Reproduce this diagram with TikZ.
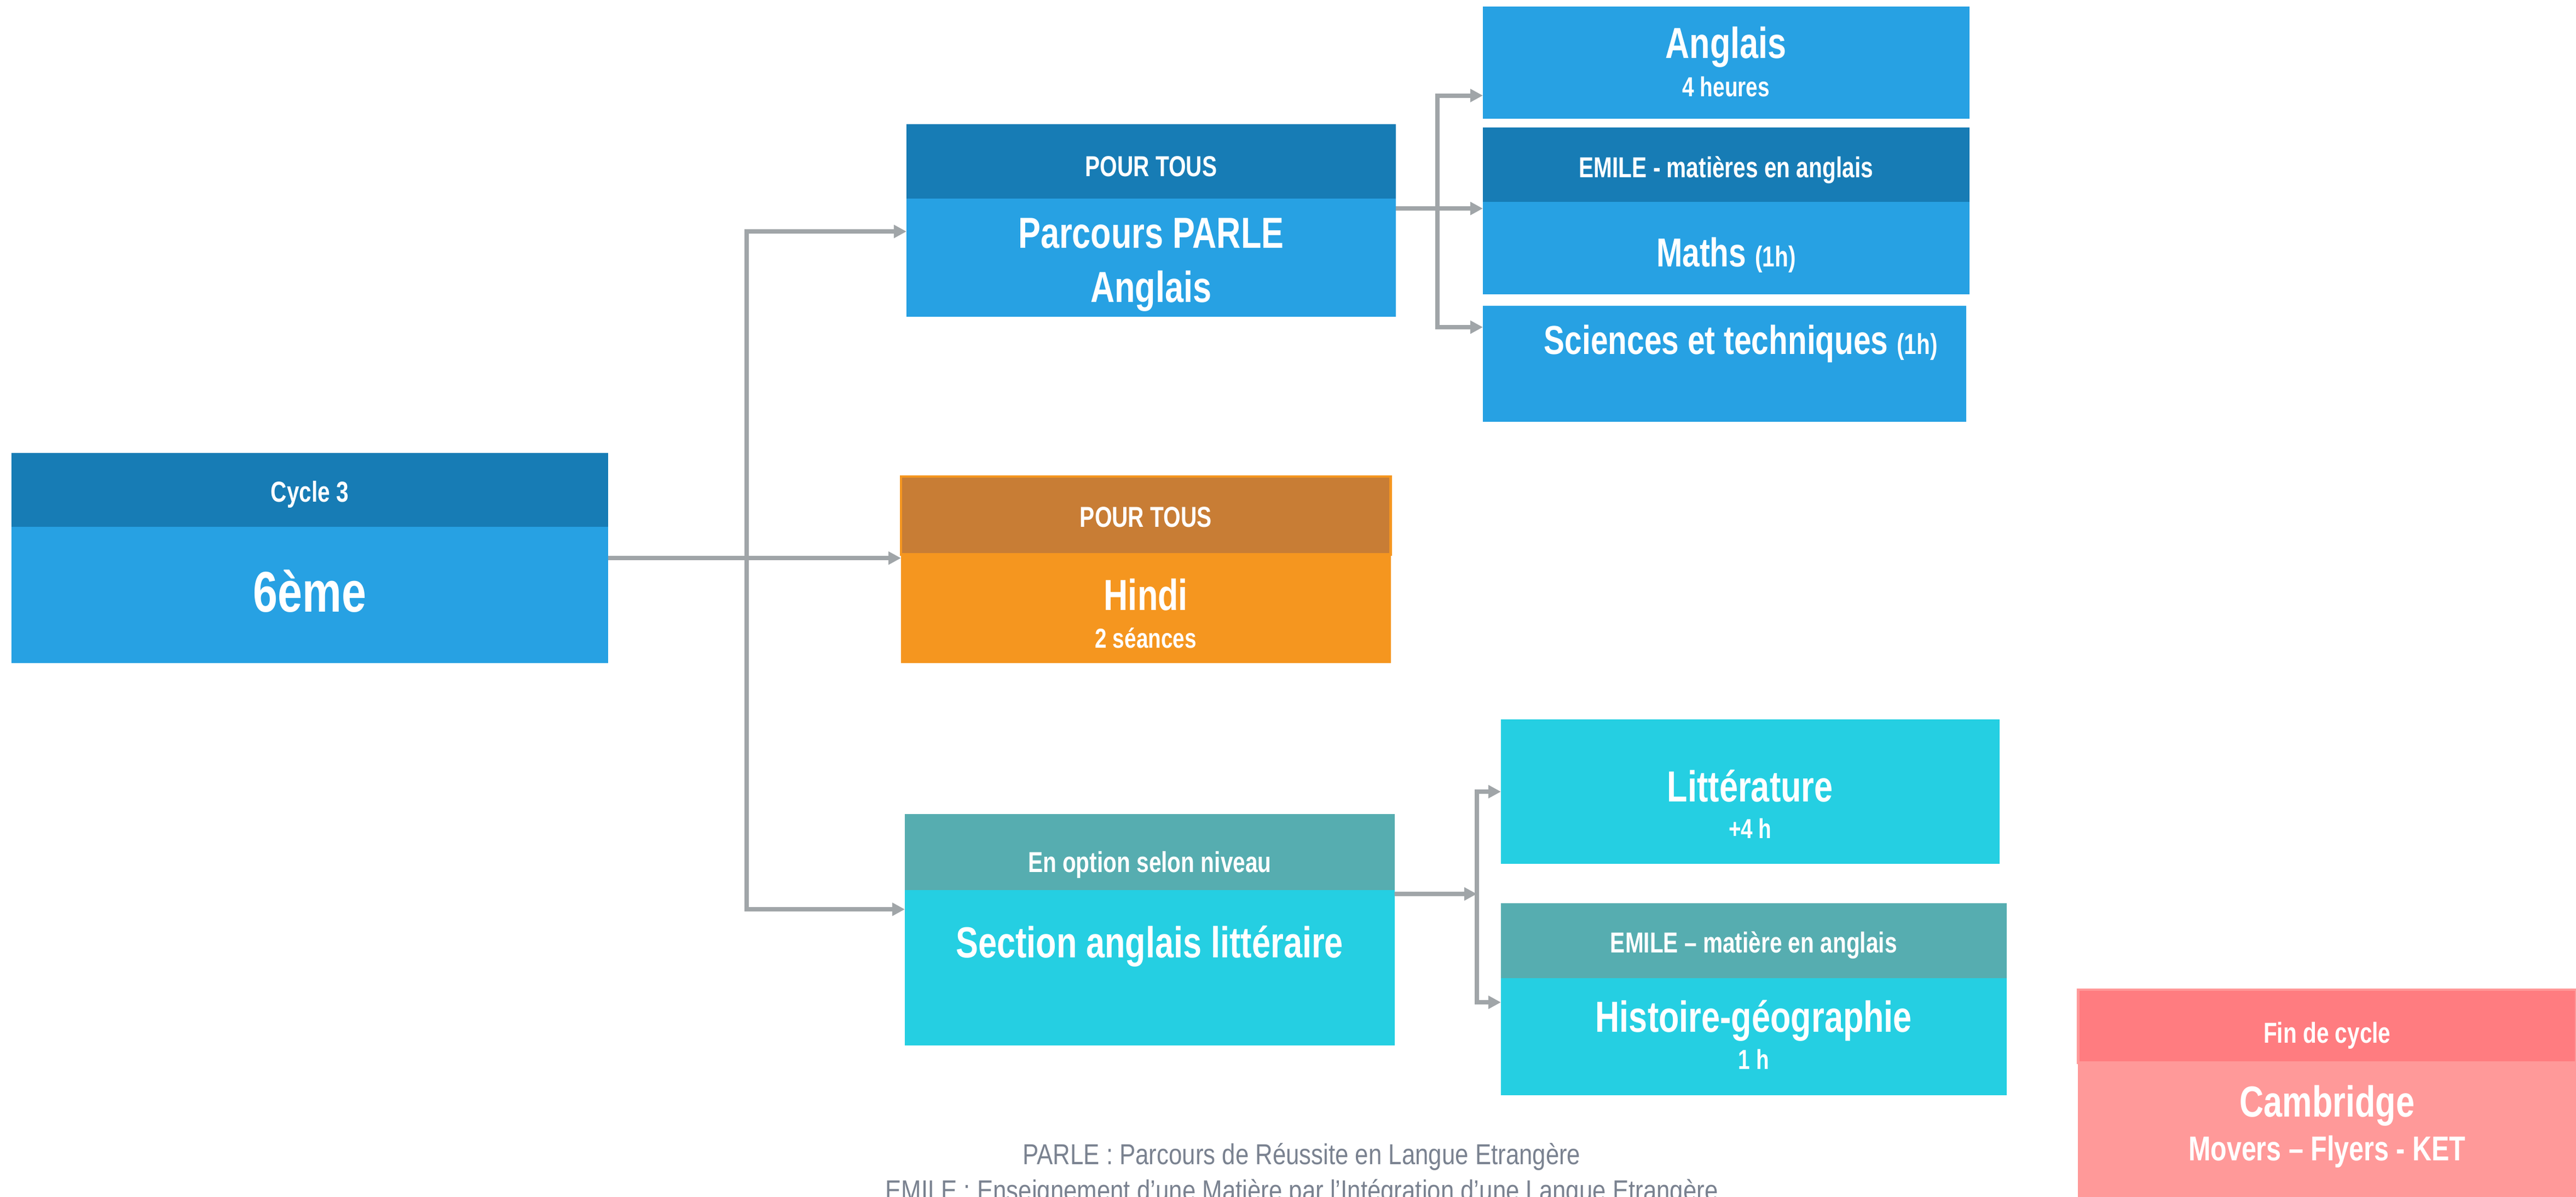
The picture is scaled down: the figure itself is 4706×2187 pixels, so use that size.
\documentclass[tikz,border=0pt]{standalone}
\usepackage{fontspec}
\setmainfont{Liberation Sans}[FakeStretch=0.77]
\newfontfamily\notefont{Liberation Sans}[FakeStretch=0.83]
\usetikzlibrary{arrows.meta,positioning}
\definecolor{blueh}{HTML}{177CB5}
\definecolor{blueb}{HTML}{27A1E3}
\definecolor{orgh}{HTML}{C87D35}
\definecolor{orgb}{HTML}{F5961F}
\definecolor{tealh}{HTML}{56ADB0}
\definecolor{cyanb}{HTML}{25CFE2}
\definecolor{pinkh}{HTML}{FF7C80}
\definecolor{pinkb}{HTML}{FF9999}
\definecolor{arrowgray}{HTML}{A0A5A8}
\definecolor{notegray}{HTML}{7A8290}
\tikzset{
    >={Triangle[width=6.5pt,length=6.5pt]},
    tb/.style 2 args={text height=#1,text depth=#2},
    plan/.style={
        box/.append style={rectangle,inner sep=0pt,outer sep=0pt,text=white,align=center},
        head/.append style={box,font=\bfseries\fontsize{15}{18}\selectfont},
        main/.append style={box,font=\bfseries\fontsize{22.6}{19.6}\selectfont},
        link/.append style={draw=arrowgray,line width=2.3pt},
        conn/.append style={link,->}
    }
}

\begin{document}
\begin{tikzpicture}[plan,x=0.01cm,y=-0.01cm]
    \useasboundingbox (0,0) rectangle (4706,2187);
    % cycle 3
    \node[head,fill=blueh,anchor=north west,minimum width=10.89cm,minimum height=1.35cm,tb={.89cm}{.46cm}] (cych) at (21,828) {Cycle 3};
    \node[main,fill=blueb,minimum width=10.89cm,minimum height=2.49cm,tb={1.55cm}{.94cm},font=\bfseries\fontsize{29.8}{34}\selectfont,below=0pt of cych] (cycb) {6ème};

    % parcours PARLE
    \node[head,fill=blueh,anchor=north west,minimum width=8.93cm,minimum height=1.36cm,tb={.95cm}{.41cm}] (parh) at (1656,227) {POUR TOUS};
    \node[main,fill=blueb,minimum width=8.93cm,minimum height=2.16cm,tb={1.89cm}{.27cm},font=\bfseries\fontsize{22.6}{28.2}\selectfont,below=0pt of parh] (parb) {Parcours PARLE\\Anglais};

    \node[main,fill=blueb,anchor=north west,minimum width=8.88cm,minimum height=2.05cm,tb={1.64cm}{.41cm},font=\bfseries\fontsize{22.6}{19.9}\selectfont] (ang) at (2709,12) {Anglais\\{\fontsize{14.3}{17}\selectfont 4 heures}};
    \node[head,fill=blueh,anchor=north west,minimum width=8.88cm,minimum height=1.36cm,tb={.91cm}{.45cm}] (emh) at (2709,233) {EMILE - matières en anglais};
    \node[main,fill=blueb,minimum width=8.88cm,minimum height=1.69cm,tb={1.18cm}{.51cm},font=\bfseries\fontsize{21}{24}\selectfont,below=0pt of emh] (emb) {Maths {\fontsize{15}{18}\selectfont(1h)}};
    \node[main,fill=blueb,anchor=north west,minimum width=8.82cm,minimum height=2.12cm,tb={.88cm}{1.24cm},font=\bfseries\fontsize{21}{24}\selectfont] (sci) at (2709,559) {\hspace*{.6cm}Sciences et techniques {\fontsize{15}{18}\selectfont(1h)}};

    % hindi
    \node[head,fill=orgh,draw=orgb,line width=1.4pt,anchor=north west,minimum width=8.94cm,minimum height=1.42cm,tb={.92cm}{.50cm}] (hinh) at (1646,871) {POUR TOUS};
    \node[main,fill=orgb,minimum width=8.94cm,minimum height=1.99cm,tb={1.71cm}{.28cm},below=0pt of hinh] (hinb) {Hindi\\{\fontsize{14.3}{17}\selectfont 2 séances}};

    % section anglais
    \node[head,fill=tealh,anchor=north west,minimum width=8.94cm,minimum height=1.39cm,tb={1.06cm}{.33cm}] (sech) at (1653,1488) {En option selon niveau};
    \node[main,fill=cyanb,minimum width=8.94cm,minimum height=2.84cm,tb={1.23cm}{1.61cm},below=0pt of sech] (secb) {Section anglais littéraire};

    \node[main,fill=cyanb,anchor=north west,minimum width=9.10cm,minimum height=2.64cm,tb={2.17cm}{.47cm},font=\bfseries\fontsize{22.6}{19}\selectfont] (lit) at (2742,1315) {Littérature\\{\fontsize{14.3}{17}\selectfont +4 h}};
    \node[head,fill=tealh,anchor=north west,minimum width=9.23cm,minimum height=1.37cm,tb={.90cm}{.47cm}] (em2h) at (2742,1651) {EMILE – matière en anglais};
    \node[main,fill=cyanb,minimum width=9.23cm,minimum height=2.14cm,tb={1.66cm}{.48cm},font=\bfseries\fontsize{22.6}{19.3}\selectfont,below=0pt of em2h] (em2b) {Histoire-géographie\\{\fontsize{14.3}{17}\selectfont 1 h}};

    % cambridge
    \node[head,fill=pinkh,draw=pinkb,line width=1.4pt,anchor=north west,minimum width=9.10cm,minimum height=1.33cm,tb={.97cm}{.36cm}] (camh) at (3796,1809) {Fin de cycle};
    \node[main,fill=pinkb,minimum width=9.10cm,minimum height=2.50cm,tb={1.79cm}{.71cm},font=\bfseries\fontsize{22.6}{22.8}\selectfont,below=0pt of camh] (camb) {Cambridge\\{\fontsize{17.9}{21}\selectfont Movers – Flyers - KET}};

    % notes
    \node[align=center,text=notegray,font=\notefont\fontsize{15}{18.5}\selectfont,anchor=base] (note) at (2378,2194) {PARLE : Parcours de Réussite en Langue Etrangère\\EMILE : Enseignement d’une Matière par l’Intégration d’une Langue Etrangère};

    % arrows
    \coordinate (jl) at (1364,1020);
    \coordinate (jr) at (2626,381);
    \coordinate (jb) at (2698,1634);
    \draw[conn] ([yshift=.675cm]cycb.east) -- ([yshift=.675cm]cycb.east -| hinb.west);
    \draw[conn] (jl) |- ([yshift=.48cm]parb.west);
    \draw[conn] (jl) |- ([yshift=1.07cm]secb.west);
    \draw[conn] ([yshift=.9cm]parb.east) -- ([yshift=.9cm]parb.east -| emb.west);
    \draw[conn] (jr) |- ([yshift=-.6cm]ang.west);
    \draw[conn] (jr) |- ([yshift=.67cm]sci.west);
    \draw[conn] ([yshift=1.35cm]secb.east) -- (jb);
    \draw[conn] (jb) |- (lit.west);
    \draw[conn] (jb) |- ([yshift=.63cm]em2b.west);
\end{tikzpicture}
\end{document}
